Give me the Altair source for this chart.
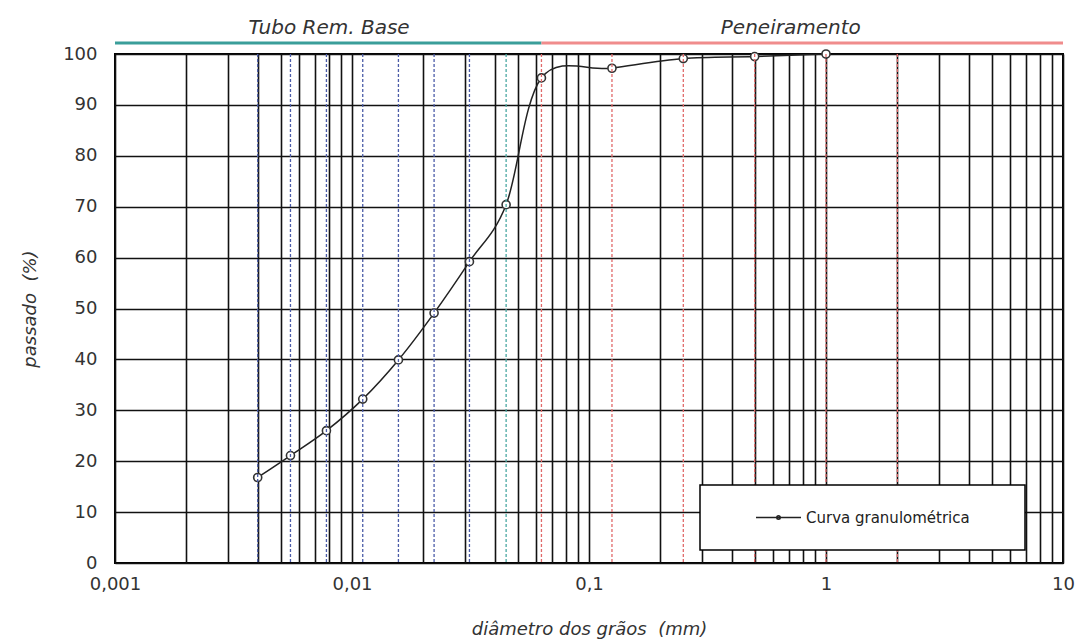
import altair as alt
import pandas as pd

# Granulometria: sedimentação (tubo) + peneiramento
sed_diam = [0.004, 0.0055, 0.0078, 0.0111, 0.0157, 0.0222, 0.0313, 0.0447]
sed_pass = [16.8, 21.1, 26.0, 32.2, 39.9, 49.1, 59.2, 70.4]
sieve_diam = [0.063, 0.125, 0.25, 0.5, 1.0]
sieve_pass = [95.3, 97.2, 99.1, 99.5, 100.0]
sieve_lines = [0.063, 0.125, 0.25, 0.5, 1.0, 2.0]

x_decades = [0.001, 0.01, 0.1, 1, 10]
x_labels = ["0,001", "0,01", "0,1", "1", "10"]
y_ticks = list(range(0, 101, 10))

faixas = ["Tubo Rem. Base", "Peneiramento"]
faixa_ini = [0.001, 0.063]
faixa_fim = [0.063, 10]
faixa_txt_x = [0.008, 0.71]

serie = "Curva granulométrica"
FONT = "DejaVu Sans"
TXT = "#333333"

# log-grid tick positions: 1..9 x each decade
x_ticks = [round(m * d, 6) for d in x_decades[:-1] for m in range(1, 10)] + [x_decades[-1]]
label_expr = " : ".join(f"datum.value == {v} ? '{l}'" for v, l in zip(x_decades, x_labels)) + " : ''"

curva = pd.DataFrame({
    "d": sed_diam + sieve_diam,
    "p": sed_pass + sieve_pass,
    "serie": [serie] * (len(sed_diam) + len(sieve_diam)),
})
faixa_df = pd.DataFrame({"faixa": faixas, "d": faixa_ini, "fim": faixa_fim, "tx": faixa_txt_x})

xs = alt.Scale(type="log", domain=[x_decades[0], x_decades[-1]])
ys = alt.Scale(domain=[0, 100])

x_axis = alt.Axis(
    values=x_ticks, labelExpr=label_expr, labelOverlap=False, labelFlush=False,
    labelPadding=12, title="diâmetro dos grãos \u00a0(mm)", titleY=71,
    titleBaseline="alphabetic",
)
y_axis = alt.Axis(
    values=y_ticks, labelPadding=18, title="passado \u00a0(%)", titleX=-80,
    titleBaseline="alphabetic",
)

def X(campo="d"):
    return alt.X(f"{campo}:Q", scale=xs, axis=x_axis)

def Y(campo="p"):
    return alt.Y(f"{campo}:Q", scale=ys, axis=y_axis)

linha = alt.Chart(curva).mark_line(interpolate="cardinal", strokeWidth=1.5).encode(
    x=X(),
    y=Y(),
    color=alt.Color(
        "serie:N", scale=alt.Scale(range=["#222222"]),
        legend=alt.Legend(
            title=None, orient="none", legendX=640, legendY=440, padding=0,
            symbolType="M-1,0L1,0M0.08,0A0.08,0.08,0,1,1,-0.08,0A0.08,0.08,0,1,1,0.08,0Z",
            symbolSize=2025, symbolStrokeWidth=1.4, labelFont=FONT, labelFontSize=15,
            labelColor="#222222", labelOffset=4, labelLimit=300,
        ),
    ),
)

pontos = alt.Chart(curva).mark_point(
    shape="circle", size=65, filled=True, fill="white", stroke="#333333",
    strokeWidth=1.6, opacity=1,
).encode(x=X(), y=Y())

def tracejado(valores, cor):
    return alt.Chart(pd.DataFrame({"d": valores})).mark_rule(
        color=cor, strokeDash=[3, 2], strokeWidth=1.3
    ).encode(x=X())

sed_azul = tracejado(sed_diam[:-1], "#4b5ca8")
sed_verde = tracejado(sed_diam[-1:], "#4aa8a2")
pen_verm = tracejado(sieve_lines, "#e06a6a")

caixa = alt.Chart(pd.DataFrame({"k": [0]})).mark_rect(
    fill="white", stroke="black", strokeWidth=1.5
).encode(
    x=alt.value(585), x2=alt.value(910), y=alt.value(431), y2=alt.value(496)
)

barras = alt.Chart(faixa_df).mark_rule(strokeWidth=3).encode(
    x=X(),
    x2="fim:Q",
    y=alt.value(-11),
    stroke=alt.Stroke("faixa:N", scale=alt.Scale(domain=faixas, range=["#3a9e9a", "#f08c8c"]), legend=None),
)

rotulos = alt.Chart(faixa_df).mark_text(
    font=FONT, fontSize=20, fontStyle="italic", color=TXT, baseline="alphabetic", align="center"
).encode(
    x=X("tx"),
    y=alt.value(-20),
    text="faixa:N",
)

chart = alt.layer(
    linha, pontos, sed_azul, sed_verde, pen_verm, caixa, barras, rotulos
).properties(
    width=948, height=509,
    autosize=alt.AutoSizeParams(type="none"),
    padding={"left": 115, "top": 54, "right": 17, "bottom": 76},
    background="white",
).configure_view(
    stroke="black", strokeWidth=2
).configure_axis(
    labelFont=FONT, labelFontSize=18, labelColor=TXT,
    titleFont=FONT, titleFontSize=18, titleFontStyle="italic", titleFontWeight="normal",
    titleColor=TXT, ticks=False, domain=False, grid=True,
    gridColor="#111111", gridWidth=1.6, gridOpacity=1,
)

chart.save("out.html", embed_options={"renderer": "svg", "actions": False})
